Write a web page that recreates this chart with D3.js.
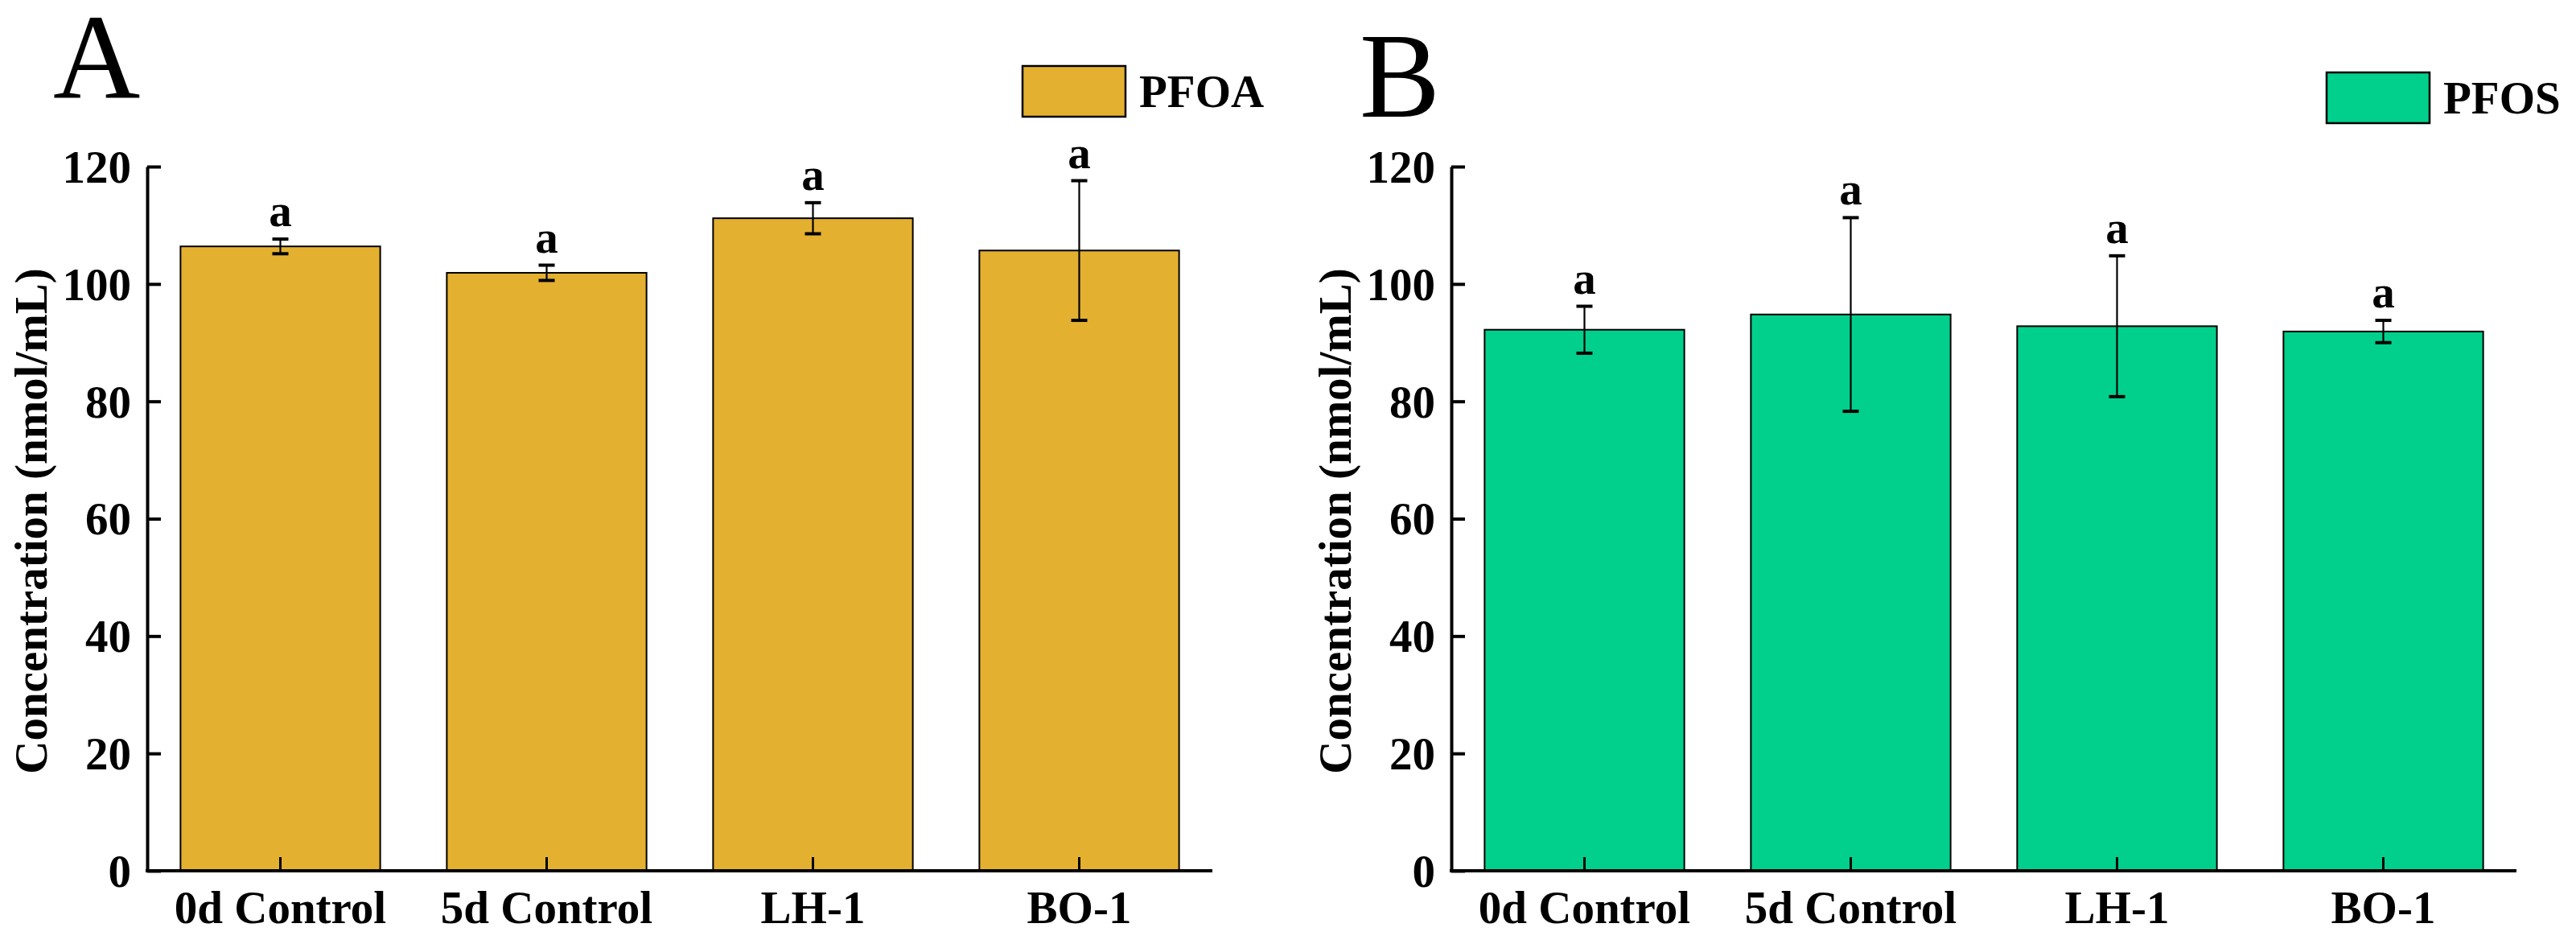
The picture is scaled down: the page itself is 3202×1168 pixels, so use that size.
<!DOCTYPE html>
<html>
<head>
<meta charset="utf-8">
<script src="https://cdn.jsdelivr.net/npm/d3@7"></script>
<style>
  body { margin: 0; background: white; }
  svg text { font-family: "Liberation Serif", "Times New Roman", serif; }
</style>
</head>
<body>
<svg id="chart" width="3202" height="1168"></svg>
<script>
const groups = ["0d Control", "5d Control", "LH-1", "BO-1"]
const yTicks = [0, 20, 40, 60, 80, 100, 120]

const pfoaMean = [106.4, 101.9, 111.2, 105.7]
const pfoaSd = [1.25, 1.3, 2.65, 11.9]
const pfoaSig = ["a", "a", "a", "a"]

const pfosMean = [92.2, 94.8, 92.8, 91.9]
const pfosSd = [4.0, 16.5, 12.0, 1.9]
const pfosSig = ["a", "a", "a", "a"]

const width = 1324
const height = 875
const fontSize = 57

const svg = d3.select("#chart")

const x = d3.scaleBand()
  .domain(groups)
  .range([0, width])
  .paddingInner(0.25)
  .paddingOuter(0.125)

const y = d3.scaleLinear()
  .domain([0, 120])
  .range([height, 0])

function drawPanel(opts) {
  const g = svg.append("g").attr("transform", `translate(${opts.left}, ${opts.top})`)
  const rows = groups.map((name, i) => ({name, mean: opts.mean[i], sd: opts.sd[i], sig: opts.sig[i]}))

  // bars
  g.selectAll("rect.bar")
    .data(rows)
    .join("rect")
    .attr("class", "bar")
    .attr("x", d => x(d.name))
    .attr("y", d => y(d.mean))
    .attr("width", x.bandwidth())
    .attr("height", d => height - y(d.mean))
    .attr("fill", opts.color)
    .attr("stroke", "black")
    .attr("stroke-width", 2)

  // error bars
  const cx = d => x(d.name) + x.bandwidth() / 2
  g.selectAll("line.err")
    .data(rows)
    .join("line")
    .attr("class", "err")
    .attr("x1", cx).attr("x2", cx)
    .attr("y1", d => y(d.mean + d.sd))
    .attr("y2", d => y(d.mean - d.sd))
    .attr("stroke", "black")
    .attr("stroke-width", 2.2)

  ;["+", "-"].forEach(sign => {
    g.selectAll(`line.cap${sign === "+" ? "hi" : "lo"}`)
      .data(rows)
      .join("line")
      .attr("class", `cap${sign === "+" ? "hi" : "lo"}`)
      .attr("x1", d => cx(d) - 10).attr("x2", d => cx(d) + 10)
      .attr("y1", d => y(sign === "+" ? d.mean + d.sd : d.mean - d.sd))
      .attr("y2", d => y(sign === "+" ? d.mean + d.sd : d.mean - d.sd))
      .attr("stroke", "black")
      .attr("stroke-width", 4)
  })

  // significance letters
  g.selectAll("text.sig")
    .data(rows)
    .join("text")
    .attr("class", "sig")
    .attr("x", cx)
    .attr("y", d => y(d.mean + d.sd) - 16)
    .attr("text-anchor", "middle")
    .attr("font-weight", "bold")
    .attr("font-size", fontSize)
    .text(d => d.sig)

  // y axis
  const yAxis = g.append("g")
    .call(d3.axisLeft(y).tickValues(yTicks).tickSizeInner(-17).tickSizeOuter(0).tickPadding(20))
  yAxis.select(".domain").attr("stroke-width", 4)
  yAxis.selectAll(".tick line").attr("stroke-width", 4)
  yAxis.selectAll("text")
    .attr("font-family", "Liberation Serif")
    .attr("font-weight", "bold")
    .attr("font-size", fontSize)
    .attr("fill", "black")
    .attr("dy", "0.34em")

  // x axis
  const xAxis = g.append("g")
    .attr("transform", `translate(0, ${height})`)
    .call(d3.axisBottom(x).tickSizeInner(-17).tickSizeOuter(0))
  xAxis.select(".domain").attr("stroke-width", 4).attr("d", `M-2,0H${width}`)
  xAxis.selectAll(".tick line").attr("stroke-width", 3)
  xAxis.selectAll("text")
    .attr("font-family", "Liberation Serif")
    .attr("font-weight", "bold")
    .attr("font-size", fontSize)
    .attr("fill", "black")
    .attr("dy", null)
    .attr("y", 65)

  // axis title
  g.append("text")
    .attr("transform", `translate(-125, ${height / 2 + 3}) rotate(-90)`)
    .attr("text-anchor", "middle")
    .attr("font-weight", "bold")
    .attr("font-size", fontSize)
    .text("Concentration (nmol/mL)")

  // panel letter
  svg.append("text")
    .attr("x", opts.letterX)
    .attr("y", opts.letterY)
    .attr("font-size", 150)
    .text(opts.letter)

  // legend
  svg.append("rect")
    .attr("x", opts.legendX).attr("y", opts.legendY)
    .attr("width", 128).attr("height", 63)
    .attr("fill", opts.color)
    .attr("stroke", "black")
    .attr("stroke-width", 2.5)
  svg.append("text")
    .attr("x", opts.legendX + 145)
    .attr("y", opts.legendY + 51)
    .attr("font-weight", "bold")
    .attr("font-size", fontSize)
    .text(opts.name)
}

drawPanel({
  left: 183, top: 207, color: "#e4b02f", name: "PFOA",
  mean: pfoaMean, sd: pfoaSd, sig: pfoaSig,
  letter: "A", letterX: 66, letterY: 121,
  legendX: 1271, legendY: 82
})

drawPanel({
  left: 1804, top: 207, color: "#00d08c", name: "PFOS",
  mean: pfosMean, sd: pfosSd, sig: pfosSig,
  letter: "B", letterX: 1690, letterY: 145,
  legendX: 2892, legendY: 90
})
</script>
</body>
</html>
